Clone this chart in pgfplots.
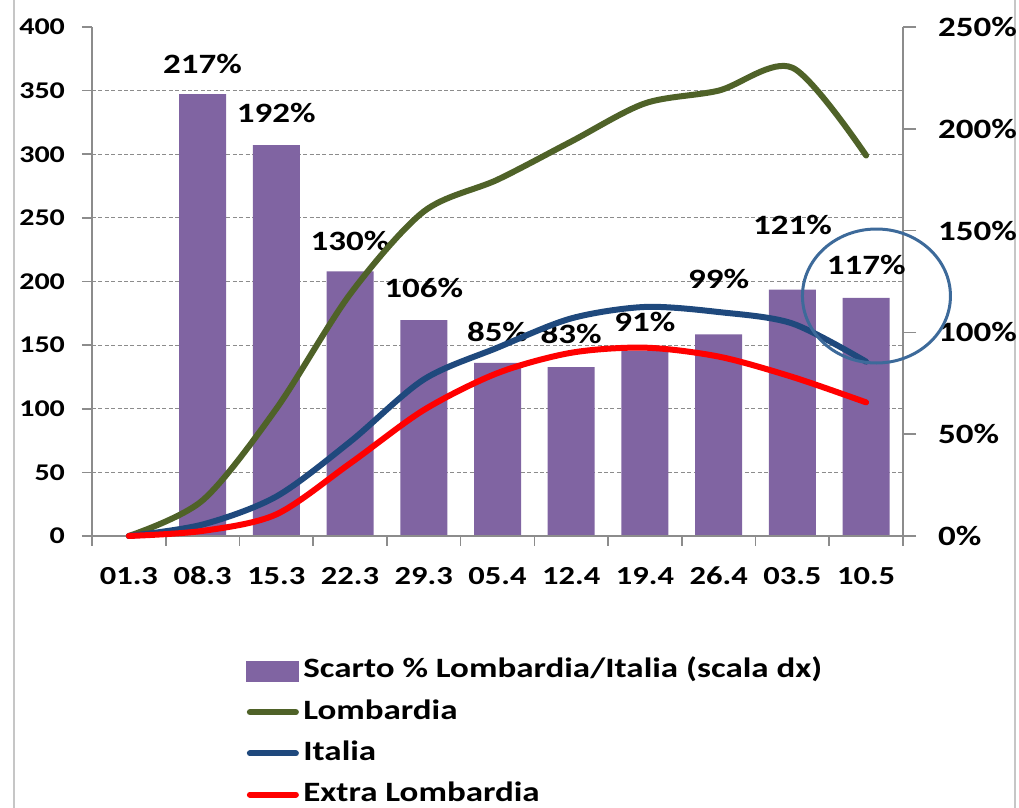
\documentclass[border=0pt]{standalone}
\usepackage{fontspec}
\setmainfont{Carlito}[FakeStretch=1.25]
\usepackage{pgfplots}
\pgfplotsset{compat=1.18}
\definecolor{barc}{HTML}{8064A2}
\definecolor{lomb}{HTML}{4F6228}
\definecolor{ital}{HTML}{1F497D}
\definecolor{extra}{HTML}{FF0000}
\definecolor{circ}{HTML}{3D6A9A}
\definecolor{axg}{HTML}{8C8C8C}
\begin{document}
\begin{tikzpicture}
\useasboundingbox (0,0) rectangle (509.5pt,404pt);
\draw[gray!45, line width=0.7pt] (7pt,0) -- (7pt,404pt);
\draw[gray!45, line width=0.7pt] (507.5pt,0) -- (507.5pt,404pt);

% bars on right axis
\begin{axis}[
  scale only axis, width=405.5pt, height=254.5pt,
  at={(46pt,136pt)}, anchor=south west,
  xmin=-0.5, xmax=10.5, ymin=0, ymax=250,
  axis y line*=right, axis x line=none,
  axis line style={axg, line width=0.8pt},
  ytick={0,50,100,150,200,250},
  yticklabels={0\%,50\%,100\%,150\%,200\%,250\%},
  yticklabel style={font=\fontsize{14}{16}\selectfont\bfseries, anchor=west, xshift=7.5pt},
  tick align=outside, major tick length=6.5pt,
  major tick style={axg, line width=0.8pt},
  minor ytick={31.25,62.5,93.75,125,156.25,187.5,218.75},
  yminorgrids, minor grid style={axg, dash pattern=on 2pt off 1.2pt, line width=0.6pt},
  minor tick length=0pt,
  clip=false,
]
\addplot[ybar, bar width=23.5pt, fill=barc, draw=none] coordinates {
 (1,217) (2,192) (3,130) (4,106) (5,85) (6,83) (7,91) (8,99) (9,121) (10,117)};
\addplot[draw=none, mark=none, nodes near coords, point meta=explicit symbolic,
  nodes near coords style={anchor=center, text=black, font=\fontsize{14}{16}\selectfont\bfseries}]
  table[meta=lab] {
x y lab
1 232 217\%
2 208 192\%
3 145 130\%
4 122 106\%
5 100 85\%
6 99 83\%
7 105 91\%
8 126 99\%
9 153 121\%
10 133 117\%
};
\end{axis}

% lines on left axis
\begin{axis}[
  scale only axis, width=405.5pt, height=254.5pt,
  at={(46pt,136pt)}, anchor=south west,
  xmin=-0.5, xmax=10.5, ymin=0, ymax=400,
  axis y line*=left, axis x line*=bottom,
  axis line style={axg, line width=0.8pt},
  ytick={0,50,100,150,200,250,300,350,400},
  yticklabels={0,50,100,150,200,250,300,350,400},
  yticklabel style={font=\fontsize{12}{14}\selectfont\bfseries, xshift=-5pt},
  xtick={-0.5,0.5,...,10.5},
  xticklabels={},
  extra x ticks={0,1,2,3,4,5,6,7,8,9,10},
  extra x tick labels={01.3,08.3,15.3,22.3,29.3,05.4,12.4,19.4,26.4,03.5,10.5},
  extra x tick style={major tick length=0pt, tick label style={font=\fontsize{13}{15}\selectfont\bfseries, anchor=base, yshift=-24.5pt}},
  tick align=outside, major tick length=5pt,
  major tick style={axg, line width=0.8pt},
  clip=false,
  legend style={at={(0.19,-0.231)}, anchor=north west, draw=none, fill=none,
    font=\fontsize{14}{16}\selectfont\bfseries, row sep=3.6pt, inner sep=0pt,
    nodes={text height=10pt, text depth=3pt}},
  legend cell align=left,
  legend image code/.code={\draw[#1, line cap=round] (1.5pt,0pt) -- (24.5pt,0pt);},
]
\addlegendimage{legend image code/.code={\fill[barc] (0pt,-5pt) rectangle (26pt,5pt);}}
\addlegendentry{Scarto \% Lombardia/Italia (scala dx)}
\addplot[lomb, line width=3pt, smooth, line cap=round] coordinates {
 (0,0) (1,28) (2,100) (3,190) (4,255) (5,280) (6,310) (7,340) (8,350) (9,368) (10,299)};
\addlegendentry{Lombardia}
\addplot[ital, line width=3pt, smooth, line cap=round] coordinates {
 (0,0) (1,9) (2,31) (3,74) (4,123) (5,148) (6,171) (7,180) (8,176) (9,167) (10,137)};
\addlegendentry{Italia}
\addplot[extra, line width=3pt, smooth, line cap=round] coordinates {
 (0,0) (1,4) (2,17) (3,57) (4,99) (5,128) (6,144) (7,148) (8,141) (9,125) (10,105)};
\addlegendentry{Extra Lombardia}
\draw[circ, line width=1.5pt] (axis cs:10.14,188.6) ellipse [x radius=37pt, y radius=33.5pt];
\end{axis}
\end{tikzpicture}
\end{document}
